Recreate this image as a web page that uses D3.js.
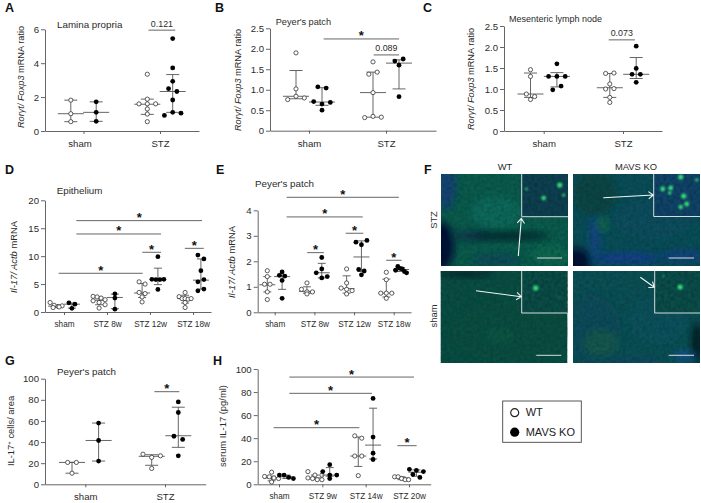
<!DOCTYPE html>
<html>
<head>
<meta charset="utf-8">
<script src="https://cdn.jsdelivr.net/npm/d3@7"></script>
<style>
  html, body { margin: 0; background: #fff; }
  svg { display: block; font-family: "Liberation Sans", Arial, sans-serif; fill: #2b2b2b; }
  .domain, .tick line { stroke: #555; stroke-width: 0.9; }
</style>
</head>
<body>
<div id="chart"></div>
<script>
// Panel A, lamina propria. Values are listed top down, left to right within a row
const twoCategories = ['sham', 'STZ']
const ratioTicks = [0, 0.5, 1, 1.5, 2, 2.5]
const ratioLabels = ['0', '0.5', '1.0', '1.5', '2.0', '2.5']
const aTicks = [0, 2, 4, 6]
const aShamWt = [1.82, 1.02, 0.55]
const aShamWtBar = [0.55, 1.02, 1.82]
const aShamKo = [1.72, 1.1, 0.57]
const aShamKoBar = [0.57, 1.1, 1.72]
const aStzWt = [3.35, 1.88, 1.6, 1.6, 1.6, 1.3, 1.0, 0.55]
const aStzWtBar = [0.98, 1.58, 1.88]
const aStzKo = [5.45, 3.72, 2.93, 2.5, 2.33, 1.83, 0.92, 1.1, 1.05]
const aStzKoBar = [1.1, 2.33, 3.33]

// Panel B, Peyer's patch
const bShamWt = [1.9, 1.02, 0.76, 0.84, 0.8]
const bShamWtBar = [0.78, 0.84, 1.47]
const bShamKo = [1.07, 1.04, 0.71, 0.65, 0.69, 0.5]
const bShamKoBar = [0.62, 0.7, 1.05]
const bStzWt = [1.68, 1.38, 1.43, 0.93, 0.32, 0.35, 0.33]
const bStzWtBar = [0.33, 0.93, 1.43]
const bStzKo = [1.7, 1.75, 1.6, 0.83]
const bStzKoBar = [1.02, 1.65, 1.73]

// Panel C, mesenteric lymph node
const cShamWt = [1.46, 1.3, 0.88, 0.82, 0.75]
const cShamWtBar = [0.8, 0.88, 1.38]
const cShamKo = [1.6, 1.3, 1.3, 1.3, 0.98, 1.07]
const cShamKoBar = [1.05, 1.3, 1.39]
const cStzWt = [1.37, 1.38, 1.12, 1.0, 1.01, 0.8, 0.68]
const cStzWtBar = [0.8, 1.03, 1.37]
const cStzKo = [2.02, 1.49, 1.35, 1.35, 1.16]
const cStzKoBar = [1.25, 1.35, 1.75]

// Panel D, epithelium
const dCategories = ['sham', 'STZ 8w', 'STZ 12w', 'STZ 18w']
const dTicks = [0, 5, 10, 15, 20]
const dShamWt = [1.7, 1.2, 1.0, 1.1, 0.8, 0.9]
const dShamWtBar = [0.85, 1.05, 1.2]
const dShamKo = [1.65, 1.4, 0.65]
const dShamKoBar = [0.7, 1.4, 1.6]
const d8wWt = [2.8, 2.7, 2.5, 2.2, 2.0, 1.7, 1.3, 0.7]
const d8wWtBar = [1.3, 2.1, 2.7]
const d8wKo = [3.25, 2.5, 0.5]
const d8wKoBar = [0.6, 2.6, 3.2]
const d12wWt = [5.4, 5.0, 3.5, 3.3, 2.7, 1.8]
const d12wWtBar = [2.6, 3.4, 5.1]
const d12wKo = [9.9, 5.85, 5.8, 5.8, 5.85, 4.05]
const d12wKoBar = [4.9, 5.8, 7.85]
const d18wWt = [3.5, 2.75, 2.4, 2.4, 2.3, 2.4, 1.7, 0.8]
const d18wWtBar = [1.6, 2.4, 3]
const d18wKo = [10.2, 9.5, 7.4, 5.4, 5.8, 3.8, 4.1]
const d18wKoBar = [4.1, 5.7, 9.5]

// Panel E, Peyer's patch
const eTicks = [0, 1, 2, 3, 4]
const eShamWt = [1.63, 1.4, 1.1, 1.1, 0.8, 0.5]
const eShamWtBar = [0.8, 1.08, 1.4]
const eShamKo = [1.58, 1.25, 1.45, 1.42, 0.55]
const eShamKoBar = [0.9, 1.4, 1.45]
const e8wWt = [1.15, 0.9, 0.8, 0.8, 0.72]
const e8wWtBar = [0.75, 0.82, 1.0]
const e8wKo = [2.15, 1.55, 1.7, 1.4, 1.35]
const e8wKoBar = [1.35, 1.55, 1.92]
const e12wWt = [1.7, 1.15, 0.95, 0.9, 0.85, 0.72]
const e12wWtBar = [0.75, 0.93, 1.43]
const e12wKo = [2.75, 2.65, 2.82, 1.47, 1.68, 1.62]
const e12wKoBar = [1.6, 2.17, 2.8]
const e18wWt = [1.57, 1.28, 0.75, 0.75, 0.75, 0.55]
const e18wWtBar = [0.6, 0.75, 1.3]
const e18wKo = [1.65, 1.8, 1.72, 1.7, 1.6, 1.55]
const e18wKoBar = [1.6, 1.68, 1.75]

// Panel G, Peyer's patch counts
const gTicks = [0, 20, 40, 60, 80, 100]
const gShamWt = [20.7, 20.7, 10.5]
const gShamWtBar = [10.5, 20.7, 20.8]
const gShamKo = [58, 41.5, 22]
const gShamKoBar = [22, 41.5, 58]
const gStzWt = [28.5, 25.5, 27, 15]
const gStzWtBar = [18, 26.5, 28]
const gStzKo = [78, 68, 45.5, 42.5, 27]
const gStzKoBar = [35, 46, 73]

// Panel H, serum IL-17
const hCategories = ['sham', 'STZ 9w', 'STZ 14w', 'STZ 20w']
const hShamWt = [10.5, 6.8, 6.5, 5.5, 5, 2]
const hShamWtBar = [3, 5.5, 7]
const hShamKo = [8, 8, 6, 5]
const hShamKoBar = [5, 6.5, 8]
const h9wWt = [11, 8, 8, 5.5, 5, 4, 4]
const h9wWtBar = [4.5, 5.5, 8]
const h9wKo = [17, 11, 8, 8, 5]
const h9wKoBar = [7, 8, 14.5]
const h14wWt = [42, 40, 24.5, 24.5, 7.5]
const h14wWtBar = [15.5, 24.5, 41]
const h14wKo = [74.5, 41, 27, 21.5]
const h14wKoBar = [22, 34, 66]
const h20wWt = [6.5, 6.5, 5, 4, 4]
const h20wWtBar = [4, 5.5, 6.5]
const h20wKo = [13, 12, 11, 8.5, 6]
const h20wKoBar = [7, 10.5, 12.5]

const groups = ['WT', 'MAVS KO']

// [from, to, level, label], from/to in category units (0 = first tick), level in y units
const aBrackets = [[0.85, 1.2, 5.95, '0.121']]
const bBrackets = [[0.19, 1.17, 2.24, '*'], [0.84, 1.17, 1.85, '0.089']]
const cBrackets = [[0.82, 1.15, 2.17, '0.073']]
const dBrackets = [[0.287, 3.21, 16.36, '*'], [0.287, 2.256, 13.97, '*'], [-0.124, 1.83, 6.93, '*'], [1.82, 2.256, 10.69, '*'], [2.81, 3.25, 11.4, '*']]
const eBrackets = [[0.3, 3.13, 4.51, '*'], [0.3, 2.22, 3.74, '*'], [1.79, 2.235, 3.1, '*'], [0.82, 1.24, 2.34, '*'], [2.81, 3.2, 2.04, '*']]
const gBrackets = [[0.866, 1.18, 87.7, '*']]
const hBrackets = [[0.238, 3.115, 93, '*'], [0.238, 2.146, 78.9, '*'], [-0.123, 1.854, 49.1, '*'], [2.73, 3.177, 33.5, '*']]

const rorLabel = [['Rorγt/ Foxp3', true], [' mRNA ratio', false]]
const il17Label = [['Il-17/ Actb', true], [' mRNA', false]]

const width = 701
const height = 503

const svg = d3.select('#chart').append('svg')
  .attr('width', width)
  .attr('height', height)
  .attr('viewBox', `0 0 ${width} ${height}`)

const defs = svg.append('defs')
defs.append('filter').attr('id', 'soft').attr('x', '-50%').attr('y', '-50%').attr('width', '200%').attr('height', '200%')
  .append('feGaussianBlur').attr('stdDeviation', 3.5)
defs.append('filter').attr('id', 'softer').attr('x', '-100%').attr('y', '-100%').attr('width', '300%').attr('height', '300%')
  .append('feGaussianBlur').attr('stdDeviation', 0.8)
let mottle = defs.append('filter').attr('id', 'mottle').attr('x', 0).attr('y', 0).attr('width', '100%').attr('height', '100%')
  .attr('color-interpolation-filters', 'sRGB')
mottle.append('feTurbulence').attr('type', 'fractalNoise').attr('baseFrequency', 0.3).attr('numOctaves', 2).attr('seed', 4)
mottle.append('feColorMatrix').attr('values', '0 0 0 0 0.02  0 0 0 0 0.16  0 0 0 0 0.18  1.6 0 0 0 -0.5')

// Points that share a row are spread around the group centre, in the listed order
function swarm (values, y, slot) {
  let offsets = []
  let i = 0
  while (i < values.length) {
    let j = i
    while (j + 1 < values.length && Math.abs(y(values[j + 1]) - y(values[i])) < 4) j++
    let count = j - i + 1
    let spacing = count > 3 ? slot * 2 / (count - 1) : slot
    for (let k = 0; k < count; k++) offsets.push((k - (count - 1) / 2) * spacing)
    i = j + 1
  }
  return offsets
}

function drawPanel (p) {
  let y = d3.scaleLinear().domain(d3.extent(p.yTicks)).range([p.bottom, p.top])
  let n = p.categories.length
  let step = (p.lastTick - p.firstTick) / (n - 1)
  let padding = ((p.right - p.left) / step - (n - 1)) / 2
  let align = (p.firstTick - p.left) / (p.right - p.left - step * (n - 1))
  let x = d3.scalePoint().domain(p.categories).range([p.left, p.right]).padding(padding).align(align)
  let xGroup = d3.scalePoint().domain(groups).range([-p.dodge, p.dodge])
  let xBracket = d3.scaleLinear().domain([0, n - 1]).range([p.firstTick, p.lastTick])

  let g = svg.append('g')

  g.append('g').attr('transform', `translate(0,${p.bottom})`)
    .call(d3.axisBottom(x).tickSize(3).tickPadding(6).tickSizeOuter(0))
    .call(s => s.selectAll('text').attr('font-size', p.xFont).attr('fill', '#2b2b2b').attr('font-family', 'Liberation Sans'))
    .call(s => s.selectAll('text').filter((d, i) => i === 0).attr('dx', p.firstLabelDx || 0))
  g.append('g').attr('transform', `translate(${p.left},0)`)
    .call(d3.axisLeft(y).tickValues(p.yTicks).tickSize(4).tickPadding(2).tickSizeOuter(0)
      .tickFormat((d, i) => p.yLabels ? p.yLabels[i] : d))
    .call(s => s.selectAll('text').attr('font-size', 9.6).attr('fill', '#2b2b2b').attr('font-family', 'Liberation Sans'))

  let labelText = g.append('text')
    .attr('transform', `translate(${p.labelX},${p.labelY}) rotate(-90)`)
    .attr('text-anchor', 'middle')
    .attr('font-size', p.labelFont)
  p.label.forEach(([t, italic]) => {
    labelText.append('tspan').attr('font-style', italic ? 'italic' : 'normal').text(t)
  })
  if (p.labelSup) {
    labelText.selectAll('tspan').remove()
    labelText.append('tspan').text('IL-17')
    labelText.append('tspan').attr('font-size', 6).attr('dy', -3).text('+')
    labelText.append('tspan').attr('dy', 3).text(' cells/ area')
  }

  if (p.title) {
    g.append('text').attr('x', p.titleX).attr('y', p.titleY).attr('font-size', p.titleFont).text(p.title)
  }

  p.series.forEach(([cat, group, values, bar]) => {
    let cx = x(cat) + xGroup(group)
    let line = g.append('g').attr('stroke', '#555').attr('stroke-width', 0.9)
    line.append('line').attr('x1', cx).attr('x2', cx).attr('y1', y(bar[0])).attr('y2', y(bar[2]))
    line.selectAll('.cap').data([bar[0], bar[2]]).enter().append('line')
      .attr('x1', cx - p.cap).attr('x2', cx + p.cap).attr('y1', d => y(d)).attr('y2', d => y(d))
    line.append('line').attr('x1', cx - p.cap * 2).attr('x2', cx + p.cap * 2).attr('y1', y(bar[1])).attr('y2', y(bar[1]))

    let offsets = swarm(values, y, p.slot)
    g.selectAll(null).data(values).enter().append('circle')
      .attr('cx', (d, i) => cx + offsets[i])
      .attr('cy', d => y(d))
      .attr('r', group === 'WT' ? 2.1 : 2.4)
      .attr('fill', group === 'WT' ? '#fff' : '#000')
      .attr('stroke', group === 'WT' ? '#333' : 'none')
      .attr('stroke-width', 0.8)
  })

  p.brackets.forEach(([from, to, level, label]) => {
    g.append('line')
      .attr('x1', xBracket(from)).attr('x2', xBracket(to))
      .attr('y1', y(level)).attr('y2', y(level))
      .attr('stroke', '#555').attr('stroke-width', 0.9)
    let star = label === '*'
    g.append('text')
      .attr('x', xBracket((from + to) / 2))
      .attr('y', y(level) + (star ? 1.5 : -3.5))
      .attr('text-anchor', 'middle')
      .attr('font-size', star ? 13 : 8.9)
      .attr('font-weight', star ? 'bold' : 'normal')
      .attr('fill', star ? '#111' : '#2b2b2b')
      .text(label)
  })
}

drawPanel({
  categories: twoCategories, yTicks: aTicks, left: 45, right: 199, top: 29.3, bottom: 131, firstTick: 83.5, lastTick: 160, dodge: 12.7, firstLabelDx: -4,
  slot: 8.3, cap: 6.5, xFont: 9.6, label: rorLabel, labelX: 24, labelY: 77, labelFont: 9.2,
  title: 'Lamina propria', titleX: 57, titleY: 28, titleFont: 9.8, brackets: aBrackets,
  series: [['sham', 'WT', aShamWt, aShamWtBar], ['sham', 'MAVS KO', aShamKo, aShamKoBar], ['STZ', 'WT', aStzWt, aStzWtBar], ['STZ', 'MAVS KO', aStzKo, aStzKoBar]]
})
drawPanel({
  categories: twoCategories, yTicks: ratioTicks, yLabels: ratioLabels, left: 270, right: 436, top: 28.3, bottom: 130.7, firstTick: 309, lastTick: 386, dodge: 13,
  slot: 8.3, cap: 6.5, xFont: 9.6, label: rorLabel, labelX: 241, labelY: 80, labelFont: 9.2,
  title: "Peyer's patch", titleX: 275.7, titleY: 25.3, titleFont: 9.2, brackets: bBrackets,
  series: [['sham', 'WT', bShamWt, bShamWtBar], ['sham', 'MAVS KO', bShamKo, bShamKoBar], ['STZ', 'WT', bStzWt, bStzWtBar], ['STZ', 'MAVS KO', bStzKo, bStzKoBar]]
})
drawPanel({
  categories: twoCategories, yTicks: ratioTicks, yLabels: ratioLabels, left: 504, right: 662, top: 26, bottom: 131, firstTick: 543.7, lastTick: 623, dodge: 13.2,
  slot: 8.3, cap: 6.5, xFont: 9.6, label: rorLabel, labelX: 474, labelY: 79, labelFont: 9.2,
  title: 'Mesenteric lymph node', titleX: 509, titleY: 21.7, titleFont: 9, brackets: cBrackets,
  series: [['sham', 'WT', cShamWt, cShamWtBar], ['sham', 'MAVS KO', cShamKo, cShamKoBar], ['STZ', 'WT', cStzWt, cStzWtBar], ['STZ', 'MAVS KO', cStzKo, cStzKoBar]]
})
drawPanel({
  categories: dCategories, yTicks: dTicks, left: 45, right: 211, top: 200.3, bottom: 312, firstTick: 64, lastTick: 193, dodge: 7.9,
  slot: 6, cap: 4, xFont: 8.2, label: il17Label, labelX: 17, labelY: 257, labelFont: 9.4,
  title: 'Epithelium', titleX: 56.7, titleY: 194, titleFont: 9.8, brackets: dBrackets,
  series: [['sham', 'WT', dShamWt, dShamWtBar], ['sham', 'MAVS KO', dShamKo, dShamKoBar], ['STZ 8w', 'WT', d8wWt, d8wWtBar], ['STZ 8w', 'MAVS KO', d8wKo, d8wKoBar],
    ['STZ 12w', 'WT', d12wWt, d12wWtBar], ['STZ 12w', 'MAVS KO', d12wKo, d12wKoBar], ['STZ 18w', 'WT', d18wWt, d18wWtBar], ['STZ 18w', 'MAVS KO', d18wKo, d18wKoBar]]
})
drawPanel({
  categories: dCategories, yTicks: eTicks, left: 257.7, right: 411, top: 210.3, bottom: 312.3, firstTick: 274.7, lastTick: 393.7, dodge: 7.4,
  slot: 5.5, cap: 4, xFont: 8.2, label: il17Label, labelX: 235, labelY: 262, labelFont: 9.4,
  title: "Peyer's patch", titleX: 255, titleY: 187.3, titleFont: 9.8, brackets: eBrackets,
  series: [['sham', 'WT', eShamWt, eShamWtBar], ['sham', 'MAVS KO', eShamKo, eShamKoBar], ['STZ 8w', 'WT', e8wWt, e8wWtBar], ['STZ 8w', 'MAVS KO', e8wKo, e8wKoBar],
    ['STZ 12w', 'WT', e12wWt, e12wWtBar], ['STZ 12w', 'MAVS KO', e12wKo, e12wKoBar], ['STZ 18w', 'WT', e18wWt, e18wWtBar], ['STZ 18w', 'MAVS KO', e18wKo, e18wKoBar]]
})
drawPanel({
  categories: twoCategories, yTicks: gTicks, left: 45, right: 205.7, top: 378.7, bottom: 484.3, firstTick: 85.3, lastTick: 165, dodge: 13.3,
  slot: 8.7, cap: 6.5, xFont: 9.6, label: [['', false]], labelSup: true, labelX: 14, labelY: 431, labelFont: 9.4,
  title: "Peyer's patch", titleX: 57, titleY: 374.7, titleFont: 9.8, brackets: gBrackets,
  series: [['sham', 'WT', gShamWt, gShamWtBar], ['sham', 'MAVS KO', gShamKo, gShamKoBar], ['STZ', 'WT', gStzWt, gStzWtBar], ['STZ', 'MAVS KO', gStzKo, gStzKoBar]]
})
drawPanel({
  categories: hCategories, yTicks: gTicks, left: 257.7, right: 430.7, top: 369, bottom: 484.3, firstTick: 279, lastTick: 409, dodge: 7.4,
  slot: 7, cap: 4, xFont: 8.2, label: [['serum IL-17 (pg/ml)', false]], labelX: 225.5, labelY: 426, labelFont: 9.4,
  brackets: hBrackets,
  series: [['sham', 'WT', hShamWt, hShamWtBar], ['sham', 'MAVS KO', hShamKo, hShamKoBar], ['STZ 9w', 'WT', h9wWt, h9wWtBar], ['STZ 9w', 'MAVS KO', h9wKo, h9wKoBar],
    ['STZ 14w', 'WT', h14wWt, h14wWtBar], ['STZ 14w', 'MAVS KO', h14wKo, h14wKoBar], ['STZ 20w', 'WT', h20wWt, h20wWtBar], ['STZ 20w', 'MAVS KO', h20wKo, h20wKoBar]]
})

// Panel letters
const letters = [['A', 5, 12], ['B', 215, 12], ['C', 423, 12], ['D', 5, 174], ['E', 216, 174], ['F', 424, 174], ['G', 5, 365], ['H', 213, 365]]
svg.selectAll('.letter').data(letters).enter().append('text')
  .attr('class', 'letter')
  .attr('x', d => d[1]).attr('y', d => d[2])
  .attr('font-size', 12.5).attr('font-weight', 'bold').attr('fill', '#111')
  .text(d => d[0])

// Panel F, a painted stand-in for the micrographs: [cx, cy, rx, ry, colour, opacity]
const micrographs = [
  {
    x: 441, y: 174, w: 127, h: 92, base: '#0a5c4c',
    blobs: [[0, 72, 13, 24, '#020a34', 1], [6, 12, 9, 24, '#123f78', 0.9], [30, 62, 20, 5, '#0a3448', 0.9], [70, 62, 38, 4, '#04222a', 0.95],
      [55, 38, 26, 16, '#0e7060', 0.7], [110, 80, 22, 10, '#0c6a50', 0.8], [55, 86, 24, 6, '#10445c', 0.8]],
    inset: { x: 80.7, w: 46.3, h: 42.7, base: '#0e4052', dots: [[38, 11, 2.6], [22, 24, 2.3], [42, 21, 1.5], [5, 15, 1.3]] },
    arrow: [[77.3, 82], [80.3, 44.5]], bar: [96, 121, 84]
  },
  {
    x: 573, y: 174, w: 127, h: 92, base: '#094e58',
    blobs: [[22, 20, 22, 22, '#0e4442', 0.9], [3, 88, 14, 14, '#020a30', 1], [52, 84, 36, 5, '#123c94', 0.95], [22, 62, 6, 20, '#134490', 0.8],
      [110, 82, 24, 6, '#123c90', 0.7], [80, 45, 40, 20, '#0a4e60', 0.8], [30, 50, 6, 8, '#18704e', 0.8]],
    inset: { x: 80.7, w: 46.3, h: 42.5, base: '#10446c', dots: [[27, 3, 2.6], [9, 15, 2.4], [17, 14, 2.4], [16, 19, 1.8], [30, 22, 2.6], [33, 30, 2.4], [27, 33, 2.2], [43, 6, 1.6]] },
    arrow: [[30.3, 23.7], [80.3, 21]], bar: [95.7, 121, 84]
  },
  {
    x: 440.5, y: 271, w: 127, h: 92, base: '#094e42',
    blobs: [[25, 3, 28, 3, '#06202a', 1], [70, 60, 60, 30, '#085040', 0.6], [60, 65, 14, 8, '#106044', 0.5]],
    inset: { x: 81.2, w: 45.8, h: 42, base: '#0a4e46', dots: [[14, 17, 2.6], [38, 26, 1, 0.5]] },
    arrow: [[35.5, 19.7], [80.8, 25.7]], bar: [95.8, 120.8, 84.3]
  },
  {
    x: 573, y: 271, w: 127, h: 92, base: '#0a5054',
    blobs: [[20, 60, 28, 36, '#104c5c', 0.9], [28, 72, 18, 14, '#165c4c', 0.8], [124, 72, 5, 20, '#04141f', 1], [112, 85, 12, 5, '#18529c', 0.8],
      [60, 90, 30, 3, '#124070', 0.7], [85, 50, 30, 24, '#0a5262', 0.6]],
    inset: { x: 81.7, w: 45.3, h: 42, base: '#0a4e4a', dots: [[25.5, 16, 2.6], [9, 5, 0.9]] },
    arrow: [[67.3, 6.3], [81.3, 16.3]], bar: [95.7, 121, 84.3]
  }
]

const arrowHead = 6

micrographs.forEach((m, i) => {
  defs.append('clipPath').attr('id', `mic${i}`).append('rect').attr('width', m.w).attr('height', m.h)
  let g = svg.append('g').attr('transform', `translate(${m.x},${m.y})`)
  let body = g.append('g').attr('clip-path', `url(#mic${i})`)
  body.append('rect').attr('width', m.w).attr('height', m.h).attr('fill', m.base)
  body.selectAll('ellipse').data(m.blobs).enter().append('ellipse')
    .attr('cx', d => d[0]).attr('cy', d => d[1]).attr('rx', d => d[2]).attr('ry', d => d[3])
    .attr('fill', d => d[4]).attr('opacity', d => d[5])
    .attr('filter', 'url(#soft)')
  body.append('rect').attr('width', m.w).attr('height', m.h).attr('filter', 'url(#mottle)').attr('opacity', 0.4)

  let inset = g.append('g').attr('transform', `translate(${m.inset.x},0)`)
  inset.append('rect').attr('width', m.inset.w).attr('height', m.inset.h).attr('fill', m.inset.base)
  inset.append('rect').attr('width', m.inset.w).attr('height', m.inset.h).attr('filter', 'url(#mottle)').attr('opacity', 0.6)
  inset.selectAll('circle').data(m.inset.dots).enter().append('circle')
    .attr('cx', d => d[0]).attr('cy', d => d[1]).attr('r', d => d[2])
    .attr('fill', '#3ce87c').attr('opacity', d => d[3] || 0.95).attr('filter', 'url(#softer)')
  inset.append('path')
    .attr('d', `M0,0V${m.inset.h}H${m.inset.w}`)
    .attr('fill', 'none').attr('stroke', '#d4dcdc').attr('stroke-width', 1)

  let [a, b] = m.arrow
  let angle = Math.atan2(b[1] - a[1], b[0] - a[0])
  let head = [-0.65, 0.65].map(t => [b[0] - arrowHead * Math.cos(angle + t), b[1] - arrowHead * Math.sin(angle + t)])
  g.append('path')
    .attr('d', `M${a}L${b}M${head[0]}L${b}L${head[1]}`)
    .attr('fill', 'none').attr('stroke', '#f2f4f4').attr('stroke-width', 1.1)
  g.append('line')
    .attr('x1', m.bar[0]).attr('x2', m.bar[1]).attr('y1', m.bar[2]).attr('y2', m.bar[2])
    .attr('stroke', '#d8dcdc').attr('stroke-width', 1)
})

svg.append('text').attr('x', 505).attr('y', 169.5).attr('text-anchor', 'middle').attr('font-size', 9.4).text('WT')
svg.append('text').attr('x', 636).attr('y', 169.5).attr('text-anchor', 'middle').attr('font-size', 9.4).text('MAVS KO')
svg.append('text').attr('transform', 'translate(436.5,220) rotate(-90)').attr('text-anchor', 'middle').attr('font-size', 9.4).text('STZ')
svg.append('text').attr('transform', 'translate(436.5,316) rotate(-90)').attr('text-anchor', 'middle').attr('font-size', 9.4).text('sham')

// Legend
let legend = svg.append('g')
legend.append('rect').attr('x', 502.7).attr('y', 401).attr('width', 78.6).attr('height', 41.3)
  .attr('fill', '#fff').attr('stroke', '#444').attr('stroke-width', 0.9)
legend.selectAll('.key').data(groups).enter().append('g').each(function (d, i) {
  let row = d3.select(this).attr('transform', `translate(514.7,${412.7 + i * 19.5})`)
  row.append('circle').attr('r', i ? 4.6 : 4)
    .attr('fill', i ? '#000' : '#fff').attr('stroke', i ? 'none' : '#222').attr('stroke-width', 1.2)
  row.append('text').attr('x', 11).attr('y', 3.6).attr('font-size', 11).attr('fill', '#222').text(d)
})
</script>
</body>
</html>
